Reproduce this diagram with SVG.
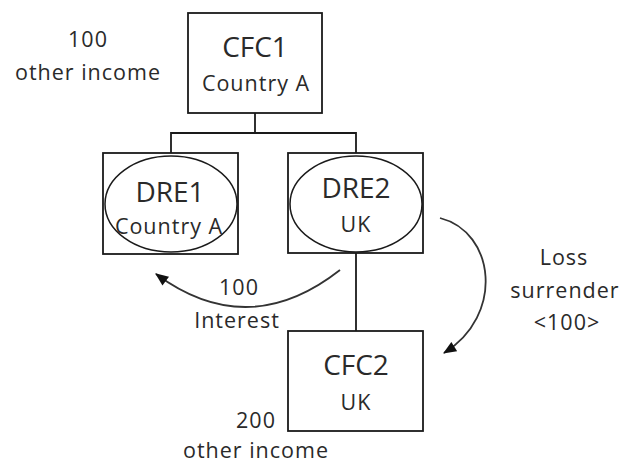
<svg xmlns="http://www.w3.org/2000/svg" width="625" height="463" viewBox="0 0 625 463">
<style>
  .box { fill: #fff; stroke: #1a1a1a; stroke-width: 1.8; }
  .ell { fill: none; stroke: #1a1a1a; stroke-width: 1.5; }
  .t { font-family: "Open Sans", "DejaVu Sans", sans-serif; fill: #2a2a2a; text-anchor: middle; }
  .big { font-size: 28px; }
  .sm { font-size: 21.5px; letter-spacing: 1px; }
  .lbl { font-size: 21.5px; letter-spacing: 1px; }
  .conn { fill: none; stroke: #1a1a1a; stroke-width: 1.8; }
  .arr { fill: none; stroke: #333; stroke-width: 1.8; }
</style>
<defs>
  <marker id="ah" viewBox="0 0 12 10" refX="11" refY="5" markerWidth="14" markerHeight="11" markerUnits="userSpaceOnUse" orient="auto">
    <path d="M0,0 L12,5 L0,10 Z" fill="#111"/>
  </marker>
</defs>
<rect width="625" height="463" fill="#fff"/>
<g id="connectors">
  <polyline class="conn" points="255,113 255,133"/>
  <polyline class="conn" points="171,153 171,133 356,133 356,153"/>
  <line class="conn" x1="356" y1="253" x2="356" y2="331"/>
  <path class="arr" d="M340,270 Q248,342 156,274" marker-end="url(#ah)"/>
  <path class="arr" d="M440,218 C495,232 505,315 444,353" marker-end="url(#ah)"/>
</g>
<g id="CFC1">
  <rect class="box" x="188" y="13" width="134" height="100"/>
  <text class="t big" x="255" y="57">CFC1</text>
  <text class="t sm" x="256" y="91">Country A</text>
</g>
<g id="DRE1">
  <rect class="box" x="103" y="153" width="135" height="101"/>
  <ellipse class="ell" cx="171" cy="204" rx="66" ry="48"/>
  <text class="t big" x="170" y="202">DRE1</text>
  <text class="t sm" x="169" y="234">Country A</text>
</g>
<g id="DRE2">
  <rect class="box" x="288" y="153" width="135" height="100"/>
  <ellipse class="ell" cx="356" cy="204" rx="66" ry="48"/>
  <text class="t big" x="356" y="198">DRE2</text>
  <text class="t sm" x="356" y="232">UK</text>
</g>
<g id="CFC2">
  <rect class="box" x="288" y="331" width="135" height="100"/>
  <text class="t big" x="356" y="375">CFC2</text>
  <text class="t sm" x="356" y="410">UK</text>
</g>
<g id="labels">
  <text class="t lbl" x="88" y="47">100</text>
  <text class="t lbl" x="88" y="80">other income</text>
  <text class="t lbl" x="239" y="295">100</text>
  <text class="t lbl" x="237" y="328">Interest</text>
  <text class="t lbl" x="564" y="265">Loss</text>
  <text class="t lbl" x="565" y="298">surrender</text>
  <text class="t lbl" x="567" y="330">&lt;100&gt;</text>
  <text class="t lbl" x="256" y="428">200</text>
  <text class="t lbl" x="256" y="458">other income</text>
</g>
</svg>
